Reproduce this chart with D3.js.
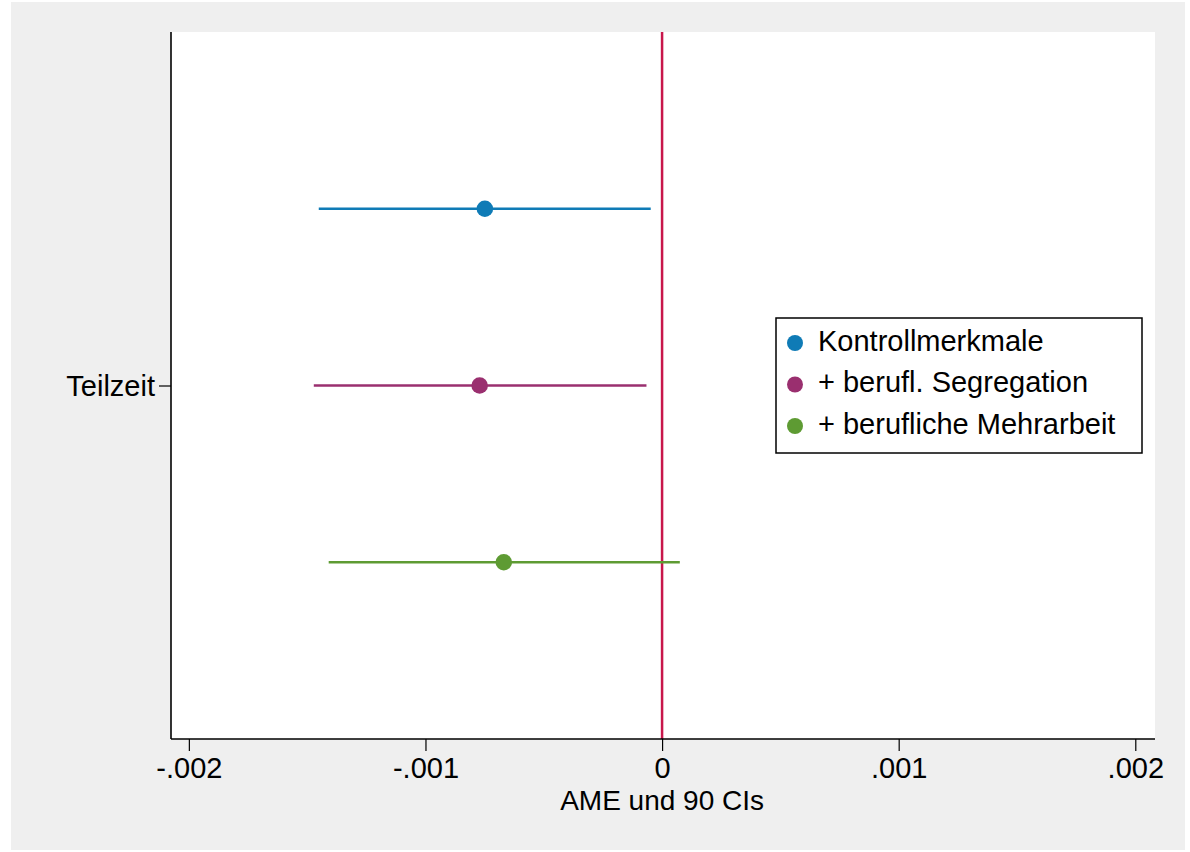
<!DOCTYPE html>
<html>
<head>
<meta charset="utf-8">
<script src="https://cdn.jsdelivr.net/npm/d3@7"></script>
<style>
  html, body { margin: 0; padding: 0; background: #ffffff; }
  svg { display: block; }
  text { font-family: Arial, "Liberation Sans", sans-serif; fill: #000; }
</style>
</head>
<body>
<svg id="chart" width="1190" height="852"></svg>
<script>
// ---- data ----
const categories = ["Teilzeit"];
const seriesNames = ["Kontrollmerkmale", "+ berufl. Segregation", "+ berufliche Mehrarbeit"];
const seriesColors = ["#0f7bb6", "#9a2f6f", "#5e9b33"];
const estimates = [-0.000749, -0.000771, -0.000669];
const ciLow = [-0.001451, -0.001472, -0.001409];
const ciHigh = [-0.000048, -0.000066, 0.000075];
const xTicks = [-0.002, -0.001, 0, 0.001, 0.002];
const xTickLabels = ["-.002", "-.001", "0", ".001", ".002"];
const xTitle = "AME und 90 CIs";

// ---- layout ----
const svg = d3.select("#chart");
const plot = { left: 171, right: 1155, top: 32, bottom: 739 };

svg.append("rect").attr("x", 11).attr("y", 2).attr("width", 1174).attr("height", 848).attr("fill", "#efefef");
svg.append("rect").attr("x", plot.left).attr("y", plot.top)
  .attr("width", plot.right - plot.left).attr("height", plot.bottom - plot.top).attr("fill", "#ffffff");

const x = d3.scaleLinear().domain([-0.0020755, 0.0020833]).range([plot.left, plot.right]);
const y = d3.scaleLinear().domain([0.5, 1.5]).range([plot.top, plot.bottom]);
const offsets = [-0.25, 0, 0.25];

// reference line at 0
svg.append("line")
  .attr("x1", x(0)).attr("x2", x(0)).attr("y1", plot.top).attr("y2", plot.bottom)
  .attr("stroke", "#c8164b").attr("stroke-width", 2.5);

// CI lines and points
const rows = seriesNames.map((name, i) => ({
  name, color: seriesColors[i], est: estimates[i], lo: ciLow[i], hi: ciHigh[i], pos: 1 + offsets[i]
}));
svg.append("g").selectAll("line").data(rows).join("line")
  .attr("x1", d => x(d.lo)).attr("x2", d => x(d.hi))
  .attr("y1", d => y(d.pos)).attr("y2", d => y(d.pos))
  .attr("stroke", d => d.color).attr("stroke-width", 2.5);
svg.append("g").selectAll("circle").data(rows).join("circle")
  .attr("cx", d => x(d.est)).attr("cy", d => y(d.pos)).attr("r", 8.3)
  .attr("fill", d => d.color);

// x axis
const xAxis = d3.axisBottom(x).tickValues(xTicks).tickFormat((d, i) => xTickLabels[i])
  .tickSize(12).tickSizeOuter(0).tickPadding(4);
const gx = svg.append("g").attr("transform", `translate(0,${plot.bottom})`).call(xAxis);
gx.select(".domain").attr("d", `M${plot.left},0H${plot.right}`).attr("stroke", "#000").attr("stroke-width", 1.6);
gx.selectAll(".tick line").attr("stroke", "#000").attr("stroke-width", 1.2);
gx.selectAll(".tick text").attr("font-size", 29).attr("font-family", "Arial, 'Liberation Sans', sans-serif")
  .attr("fill", "#000").attr("dy", null).attr("y", 39);

// y axis
const yAxis = d3.axisLeft(y).tickValues([1]).tickFormat(() => categories[0])
  .tickSize(12).tickSizeOuter(0).tickPadding(4);
const gy = svg.append("g").attr("transform", `translate(${plot.left},0)`).call(yAxis);
gy.select(".domain").attr("d", `M0,${plot.top}V${plot.bottom}`).attr("stroke", "#000").attr("stroke-width", 1.6);
gy.selectAll(".tick line").attr("stroke", "#000").attr("stroke-width", 1.2);
gy.selectAll(".tick text").attr("font-size", 29).attr("font-family", "Arial, 'Liberation Sans', sans-serif")
  .attr("fill", "#000").attr("dy", "0.35em");

// x title
svg.append("text").attr("x", (x(-0.00045) + x(0.00045)) / 2).attr("y", 810)
  .attr("text-anchor", "middle").attr("font-size", 28).text(xTitle);

// legend
const lg = svg.append("g");
lg.append("rect").attr("x", 776).attr("y", 318).attr("width", 366).attr("height", 135)
  .attr("fill", "#ffffff").attr("stroke", "#000").attr("stroke-width", 1.5);
const legendY = [343, 384.5, 426];
rows.forEach((d, i) => {
  lg.append("circle").attr("cx", 795).attr("cy", legendY[i]).attr("r", 8).attr("fill", d.color);
  lg.append("text").attr("x", 818).attr("y", legendY[i] + 7.5).attr("font-size", 29).text(d.name);
});
</script>
</body>
</html>
